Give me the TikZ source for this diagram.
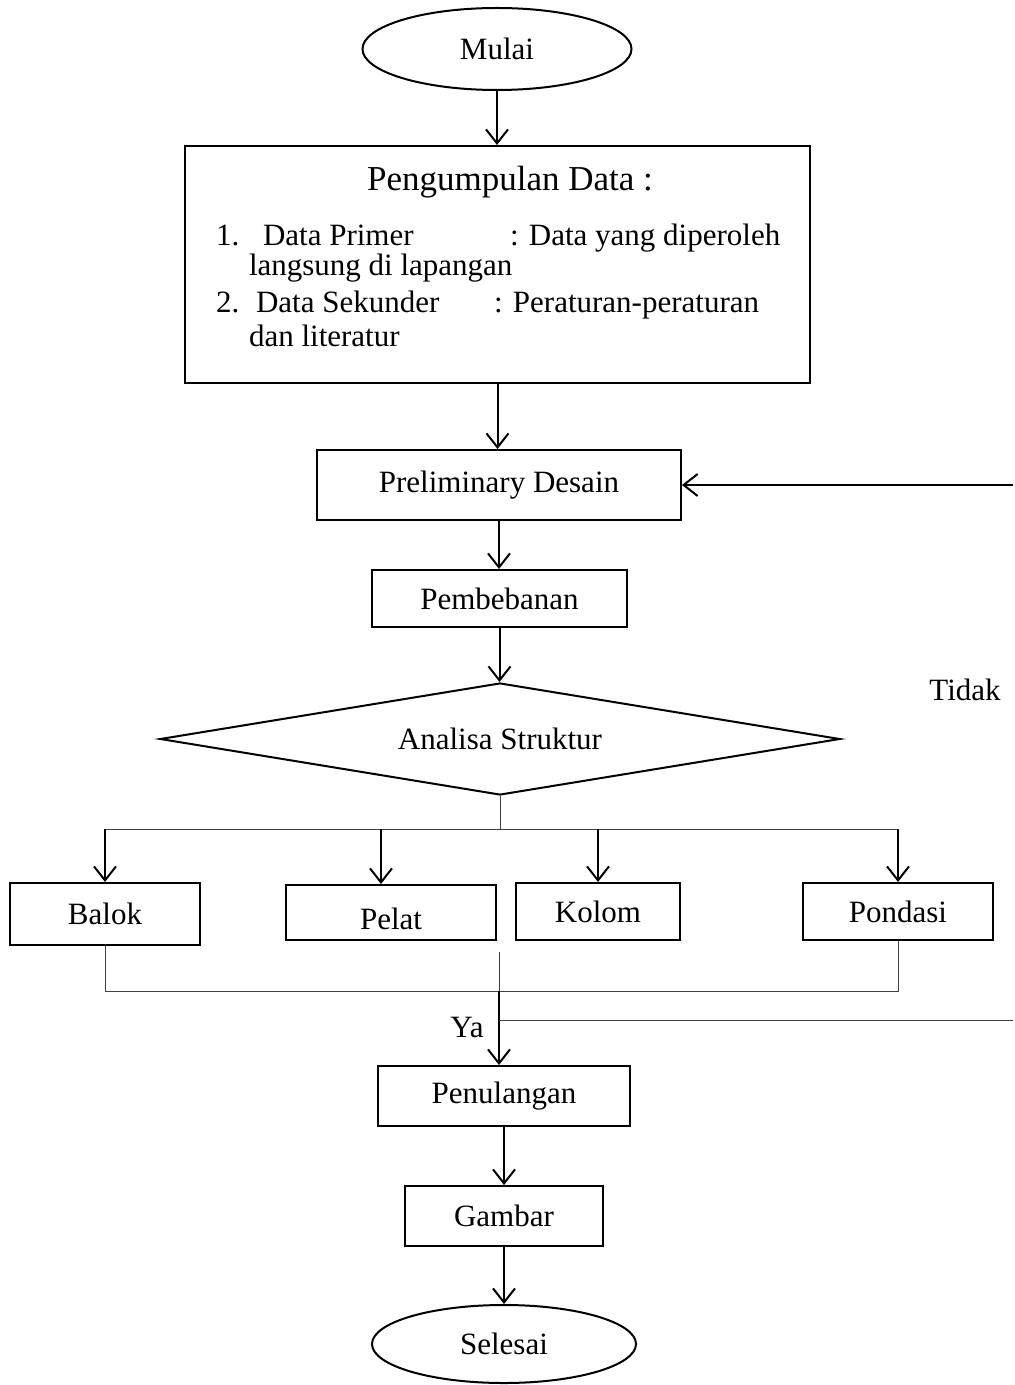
\documentclass[tikz,border=0pt]{standalone}
\usepackage{fontspec}
\setmainfont{Liberation Serif}
\usetikzlibrary{arrows.meta,positioning,shapes.geometric}

\begin{document}
\begin{tikzpicture}[x=0.5pt, y=-0.5pt, font=\fontsize{15.5}{18}\selectfont,
  line width=1pt, >={Straight Barb[length=7pt,width=11pt]},
  box/.style={draw, rectangle, inner sep=0pt},
  term/.style={draw, ellipse, inner sep=0pt},
  thinline/.style={line width=0.5pt, black!75}]
% 1 unit = 1 px of the 1015 x 1385 layout
\useasboundingbox (0,0) rectangle (1015,1385);
\node[term, minimum width=134.5pt, minimum height=41pt] (mulai) at (497,49) {Mulai};
\node[box, minimum width=312.5pt, minimum height=118.5pt] (data) at (497.5,264.5) {};
\node[anchor=base, font=\fontsize{17.5}{20}\selectfont] (dataTitle) at (510,191) {Pengumpulan Data :};
\node[anchor=base west, inner sep=0pt] (noA) at (215,246) {1.};
\node[anchor=base west, inner sep=0pt] (primer) at (262,246) {Data Primer};
\node[anchor=base west, inner sep=0pt] (primerDef) at (509,246) {: Data yang diperoleh};
\node[anchor=base west, inner sep=0pt] (primerDefB) at (248,276) {langsung di lapangan};
\node[anchor=base west, inner sep=0pt] (noB) at (215,313) {2.};
\node[anchor=base west, inner sep=0pt] (sekunder) at (255,313) {Data Sekunder};
\node[anchor=base west, inner sep=0pt] (sekunderDef) at (493,313) {: Peraturan-peraturan};
\node[anchor=base west, inner sep=0pt] (sekunderDefB) at (248,347) {dan literatur};
\node[box, minimum width=182pt, minimum height=35pt] (prelim) at (499,485) {Preliminary Desain};
\node[box, minimum width=127.5pt, minimum height=28.5pt] (beban) at (499.5,598.5) {Pembebanan};
\node[draw, diamond, aspect=6.07, inner sep=0pt, minimum width=340pt, minimum height=56pt] (analisa) at (500,739) {Analisa Struktur};
\node (tidak) at (965,690) {Tidak};
\node[box, minimum width=95pt, minimum height=31pt] (balok) at (105,914) {Balok};
\node[box, minimum width=105pt, minimum height=27.5pt] (pelat) at (391,912.5) {\raisebox{-3pt}[\height][\depth]{Pelat}};
\node[box, minimum width=82pt, minimum height=28.5pt] (kolom) at (598,911.5) {Kolom};
\node[box, minimum width=95pt, minimum height=28.5pt] (pondasi) at (898,911.5) {Pondasi};
\node[box, minimum width=126pt, minimum height=30pt] (tulangan) at (504,1096) {Penulangan};
\node[box, minimum width=99pt, minimum height=30pt] (gambar) at (504,1216) {Gambar};
\node[term, minimum width=132pt, minimum height=39pt] (selesai) at (504,1344) {Selesai};
\node (ya) at (467,1027) {Ya};
\coordinate (split) at (500,829);
\coordinate (gapTop) at (499,952);
\coordinate (merge) at (499,991);
\coordinate (tidakJoin) at (499,1020);
\coordinate (backOut) at (1013,1020);
\coordinate (backIn) at (1013,485);

\draw[->] (mulai) -- (mulai |- data.north);
\draw[->] (data) -- (data |- prelim.north);
\draw[->] (prelim) -- (prelim |- beban.north);
\draw[->] (beban) -- (beban |- analisa.north);
\draw[thinline] (analisa.south) -- (split);
\draw[thinline] (balok.north |- split) -- (pondasi.north |- split);
\draw[->] (balok.north |- split) -- (balok.north);
\draw[->] ([xshift=-5pt]pelat.north |- split) -- ([xshift=-5pt]pelat.north);
\draw[->] (kolom.north |- split) -- (kolom.north);
\draw[->] (pondasi.north |- split) -- (pondasi.north);
\draw[thinline] (balok.south) -- (balok.south |- merge) -- (pondasi.south |- merge) -- (pondasi.south);
\draw[thinline] (gapTop) -- (merge);
\draw[->] (merge) -- (merge |- tulangan.north);
\draw[thinline] (tidakJoin) -- (backOut);
\draw[->] (backIn) -- (prelim.east);
\draw[->] (tulangan) -- (gambar);
\draw[->] (gambar) -- (selesai);
\end{tikzpicture}
\end{document}
